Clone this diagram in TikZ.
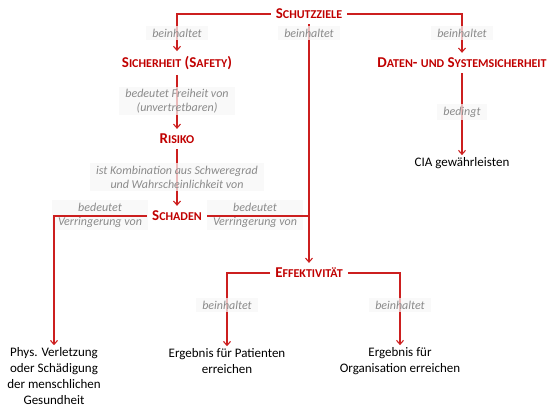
\documentclass[tikz,border=0pt]{standalone}
\usepackage{fontspec}
\setmainfont{Carlito}
\usetikzlibrary{arrows.meta}
\definecolor{hred}{HTML}{C00000}
\definecolor{lred}{HTML}{CC1F1F}
\definecolor{lgray}{HTML}{8A8A8A}
\newcommand{\hs}[2]{\textbf{#1{\fontsize{12}{13}\selectfont #2}}}
\begin{document}
\begin{tikzpicture}[x=1pt,y=-1pt,
  every node/.style={font=\fontsize{13}{16}\selectfont, inner sep=2pt},
  head/.style={text=hred, inner sep=5pt, font=\fontsize{15}{16}\selectfont},
  plain/.style={align=center, text=black},
  lab/.style={font=\fontsize{12}{14}\selectfont\itshape, text=lgray, align=center,
    fill=black!3, fill opacity=0.72, text opacity=1, inner xsep=6pt, inner ysep=2.5pt},
  conn/.style={draw=lred, line width=1.3pt},
  arr/.style={conn, -{Straight Barb[length=4pt,width=7pt,line width=1.1pt]}}]
\useasboundingbox (0,0) rectangle (551,414);
% nodes
\node[head] (sz) at (309,14) {\hs{S}{CHUTZZIELE}};
\node[head] (sich) at (177,63) {\hs{S}{ICHERHEIT} \hs{(S}{AFETY}\textbf{)}};
\node[head] (dat) at (462,63) {\hs{D}{ATEN}\textbf{-} \hs{}{UND} \hs{S}{YSTEMSICHERHEIT}};
\node[head] (risk) at (177,139) {\hs{R}{ISIKO}};
\node[head] (sch) at (177,216) {\hs{S}{CHADEN}};
\node[head] (eff) at (309,273) {\hs{E}{FFEKTIVITÄT}};
\node[plain] (cia) at (462,163) {CIA gewährleisten};
\node[plain] (phys) at (54,376) {Phys. Verletzung\\oder Schädigung\\der menschlichen\\Gesundheit};
\node[plain] (pat) at (227,361) {Ergebnis für Patienten\\erreichen};
\node[plain] (org) at (400,361) {Ergebnis für\\Organisation erreichen};
\coordinate (mid) at (sch.east -| sz.south);
% labels lying under their connector
\node[lab] (l6) at (100,215) {bedeutet\\Verringerung von};
\node[lab] (l7) at (255,215) {bedeutet\\Verringerung von};
% connectors
\draw[arr] (sz.west) -| (sich.north);
\draw[arr] (sz.east) -| (dat.north);
\draw[arr] (sz.south) -- (eff.north);
\draw[arr] (sich.south) -- (risk.north);
\draw[arr] (risk.south) -- (sch.north);
\draw[arr] (dat.south) -- (cia.north);
\draw[conn] (sch.east) -- (mid);
\draw[arr] (sch.west) -| (phys.north);
\draw[arr] (eff.west) -| (pat.north);
\draw[arr] (eff.east) -| (org.north);
% labels over their connector
\node[lab] (l1) at (177,33) {beinhaltet};
\node[lab] (l2) at (309,33) {beinhaltet};
\node[lab] (l3) at (462,33) {beinhaltet};
\node[lab] (l4) at (177,101) {bedeutet Freiheit von\\(unvertretbaren)};
\node[lab] (l5) at (177,177) {ist Kombination aus Schweregrad\\und Wahrscheinlichkeit von};
\node[lab] (l8) at (462,112) {bedingt};
\node[lab] (l9) at (227,305) {beinhaltet};
\node[lab] (l10) at (400,305) {beinhaltet};
\end{tikzpicture}
\end{document}
